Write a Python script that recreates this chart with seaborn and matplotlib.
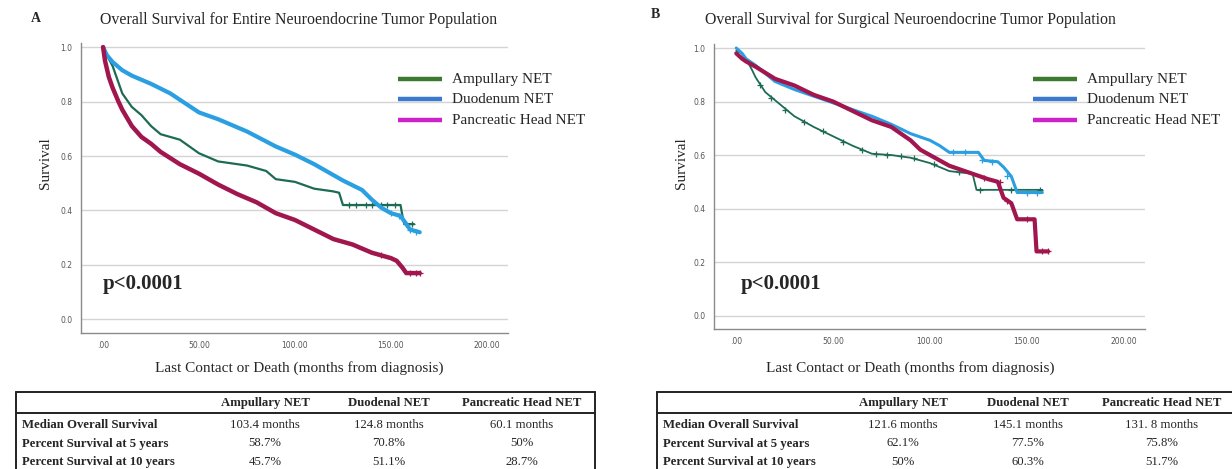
import numpy as np
import pandas as pd
import matplotlib.pyplot as plt
import seaborn as sns

# ------------------------------------------------------------
# Kaplan-Meier style survival curves for NET populations
# ------------------------------------------------------------

groups = ["Ampullary NET", "Duodenum NET", "Pancreatic Head NET"]

# Panel A: entire population
amp_a_t = [0, 2, 5, 8, 10, 15, 20, 25, 30, 35, 40, 50, 60, 75, 85, 90, 100, 110, 120, 123, 125, 155, 156, 157, 162]
amp_a_s = [1.0, 0.97, 0.93, 0.87, 0.83, 0.78, 0.75, 0.71, 0.68, 0.67, 0.66, 0.61, 0.58, 0.565, 0.545, 0.515, 0.505,
           0.48, 0.47, 0.465, 0.42, 0.42, 0.38, 0.35, 0.35]
duo_a_t = [0, 2, 5, 10, 15, 25, 35, 50, 60, 75, 90, 100, 110, 125, 135, 140, 145, 150, 155, 160, 165]
duo_a_s = [1.0, 0.97, 0.945, 0.915, 0.895, 0.865, 0.83, 0.76, 0.735, 0.69, 0.635, 0.605, 0.57, 0.51, 0.475, 0.44,
           0.41, 0.39, 0.38, 0.33, 0.32]
panc_a_t = [0, 1, 3, 5, 8, 10, 15, 20, 25, 30, 40, 50, 60, 70, 80, 90, 100, 110, 120, 130, 140, 150, 153, 156, 158, 165]
panc_a_s = [1.0, 0.95, 0.89, 0.85, 0.80, 0.77, 0.71, 0.67, 0.645, 0.615, 0.57, 0.535, 0.495, 0.46, 0.43, 0.39, 0.365,
            0.33, 0.295, 0.275, 0.245, 0.225, 0.215, 0.19, 0.17, 0.17]

# censored observations (time, survival)
amp_a_cens_t = [128, 132, 137, 140, 145, 148, 152, 158, 161]
amp_a_cens_s = [0.42, 0.42, 0.42, 0.42, 0.42, 0.42, 0.42, 0.35, 0.35]
duo_a_cens_t = [150, 154, 160, 163]
duo_a_cens_s = [0.39, 0.38, 0.33, 0.32]
panc_a_cens_t = [145, 160, 163, 165]
panc_a_cens_s = [0.235, 0.17, 0.17, 0.17]

# Panel B: surgical population
amp_b_t = [0, 3, 5, 8, 10, 15, 20, 30, 40, 50, 60, 70, 80, 90, 100, 110, 122, 124, 140, 158]
amp_b_s = [0.99, 0.98, 0.96, 0.92, 0.89, 0.835, 0.805, 0.745, 0.705, 0.67, 0.635, 0.605, 0.60, 0.59, 0.57, 0.54,
           0.53, 0.47, 0.47, 0.47]
duo_b_t = [0, 3, 5, 10, 20, 30, 40, 50, 60, 70, 80, 90, 100, 105, 110, 125, 128, 135, 138, 142, 145, 158]
duo_b_s = [1.0, 0.98, 0.96, 0.935, 0.875, 0.845, 0.82, 0.795, 0.77, 0.745, 0.715, 0.68, 0.655, 0.635, 0.61, 0.61,
           0.58, 0.575, 0.555, 0.52, 0.46, 0.46]
panc_b_t = [0, 3, 5, 10, 20, 30, 40, 50, 60, 70, 80, 85, 90, 95, 100, 110, 120, 130, 135, 138, 142, 145, 154, 155, 161]
panc_b_s = [0.98, 0.96, 0.95, 0.93, 0.885, 0.86, 0.825, 0.80, 0.765, 0.73, 0.705, 0.68, 0.655, 0.62, 0.60, 0.56,
            0.535, 0.51, 0.50, 0.44, 0.42, 0.36, 0.36, 0.24, 0.24]

amp_b_cens_t = [12, 18, 25, 35, 45, 55, 65, 72, 78, 85, 92, 102, 115, 126, 142, 157]
amp_b_cens_s = [0.86, 0.815, 0.77, 0.725, 0.69, 0.65, 0.62, 0.605, 0.60, 0.595, 0.59, 0.565, 0.535, 0.47, 0.47, 0.47]
duo_b_cens_t = [112, 118, 127, 132, 140, 150, 155]
duo_b_cens_s = [0.61, 0.61, 0.58, 0.575, 0.52, 0.46, 0.46]
panc_b_cens_t = [128, 136, 140, 150, 158, 161]
panc_b_cens_s = [0.515, 0.50, 0.43, 0.36, 0.24, 0.24]

# summary tables
table_cols = ["Ampullary NET", "Duodenal NET", "Pancreatic Head NET"]
table_rows = ["Median Overall Survival", "Percent Survival at 5 years", "Percent Survival at 10 years"]
table_a = [["103.4 months", "124.8 months", "60.1 months"],
           ["58.7%", "70.8%", "50%"],
           ["45.7%", "51.1%", "28.7%"]]
table_b = [["121.6 months", "145.1 months", "131. 8 months"],
           ["62.1%", "77.5%", "75.8%"],
           ["50%", "60.3%", "51.7%"]]

x_ticks = [0, 50, 100, 150, 200]
x_tick_labels = [".00", "50.00", "100.00", "150.00", "200.00"]
y_ticks = [0.0, 0.2, 0.4, 0.6, 0.8, 1.0]

# -----------------------------
# Style
# -----------------------------
sns.set_style("white")
plt.rcParams["font.family"] = ["Liberation Serif", "DejaVu Serif"]

curve_colors = ["#1d6b55", "#2a9fe2", "#a1164f"]
legend_colors = ["#3d7a2f", "#3b78cf", "#cc22cc"]

W, H = 1232, 469
fig = plt.figure(figsize=(W / 100, H / 100), dpi=100)


def px_axes(left, top, right, bottom):
    return fig.add_axes([left / W, 1 - bottom / H, (right - left) / W, (bottom - top) / H])


def draw_panel(ax, curves, censors, widths):
    for (t, s), color, lw in zip(curves, curve_colors, widths):
        df = pd.DataFrame({"t": t, "s": s})
        sns.lineplot(data=df, x="t", y="s", ax=ax, color=color, linewidth=lw,
                     sort=False, estimator=None)
    for (t, s), color in zip(censors, curve_colors):
        sns.scatterplot(x=t, y=s, ax=ax, marker="+", s=22, color=color, linewidth=0.9)

    ax.set_xlim(-11.5, 211)
    ax.set_ylim(-0.05, 1.015)
    ax.set_xticks(x_ticks)
    ax.set_xticklabels(x_tick_labels)
    ax.set_yticks(y_ticks)
    ax.set_yticklabels([f"{v:.1f}" for v in y_ticks])
    ax.tick_params(length=0, labelsize=5.5, labelcolor="#555555", pad=6)
    for lab in ax.get_xticklabels() + ax.get_yticklabels():
        lab.set_family("DejaVu Sans")
    ax.yaxis.grid(True, color="#d4d4d4", linewidth=1)
    ax.xaxis.grid(False)
    for side in ["top", "right"]:
        ax.spines[side].set_visible(False)
    for side in ["left", "bottom"]:
        ax.spines[side].set_color("#8a8a8a")
        ax.spines[side].set_linewidth(1)
    ax.set_xlabel("")
    ax.set_ylabel("")


# -----------------------------
# Panel A
# -----------------------------
ax_a = px_axes(81, 43, 508, 333)
draw_panel(ax_a,
           [(amp_a_t, amp_a_s), (duo_a_t, duo_a_s), (panc_a_t, panc_a_s)],
           [(amp_a_cens_t, amp_a_cens_s), (duo_a_cens_t, duo_a_cens_s), (panc_a_cens_t, panc_a_cens_s)],
           [1.6, 3.0, 3.2])

# -----------------------------
# Panel B
# -----------------------------
ax_b = px_axes(714, 44, 1145, 329)
draw_panel(ax_b,
           [(amp_b_t, amp_b_s), (duo_b_t, duo_b_s), (panc_b_t, panc_b_s)],
           [(amp_b_cens_t, amp_b_cens_s), (duo_b_cens_t, duo_b_cens_s), (panc_b_cens_t, panc_b_cens_s)],
           [1.3, 2.2, 3.0])

# -----------------------------
# Overlay for text, legends and tables (pixel coordinates)
# -----------------------------
over = fig.add_axes([0, 0, 1, 1])
over.set_xlim(0, W)
over.set_ylim(H, 0)
over.axis("off")
over.patch.set_alpha(0)

panels = [
    ("A", 36, 18, "Overall Survival for Entire Neuroendocrine Tumor Population", 299, 103, 368, 46, 398),
    ("B", 655, 15, "Overall Survival for Surgical Neuroendocrine Tumor Population", 910, 741, 368, 682, 1033),
]
for letter, lx, ly, title, tx, px, xl_y, yl_x, leg_x in panels:
    over.text(lx, ly, letter, fontsize=10, fontweight="bold", ha="center", va="center")
    over.text(tx, 20, title, fontsize=11.4, ha="center", va="center")
    over.text(px, 284, "p<0.0001", fontsize=15, fontweight="bold", ha="left", va="center")
    over.text(tx, xl_y, "Last Contact or Death (months from diagnosis)", fontsize=11, ha="center", va="center")
    over.text(yl_x, 163, "Survival", fontsize=11, rotation=90, ha="center", va="center")
    for i, (name, c) in enumerate(zip(groups, legend_colors)):
        y = 79 + i * 20.5
        over.plot([leg_x, leg_x + 44], [y, y], color=c, linewidth=3.2, solid_capstyle="butt")
        over.text(leg_x + 54, y, name, fontsize=11, ha="left", va="center")


def draw_table(x0, x1, col_x, values, label_x):
    top, sep = 392, 413
    over.plot([x0, x1], [top, top], color="#222222", linewidth=1.4)
    over.plot([x0, x1], [sep, sep], color="#222222", linewidth=1.4)
    over.plot([x0, x0], [top, H + 5], color="#222222", linewidth=1.4)
    if x1 < W:
        over.plot([x1, x1], [top, H + 5], color="#222222", linewidth=1.4)
    for cx, name in zip(col_x, table_cols):
        over.text(cx, 403, name, fontsize=9.2, fontweight="bold", ha="center", va="center")
    for r, (row_name, row_vals) in enumerate(zip(table_rows, values)):
        y = 425 + r * 18.5
        over.text(label_x, y, row_name, fontsize=9.2, fontweight="bold", ha="left", va="center")
        for cx, v in zip(col_x, row_vals):
            over.text(cx, y, v, fontsize=9.2, ha="center", va="center")


draw_table(16, 595, [265, 389, 522], table_a, 22)
draw_table(657, W + 10, [903, 1028, 1162], table_b, 663)

fig.savefig("out.png", dpi=100)
